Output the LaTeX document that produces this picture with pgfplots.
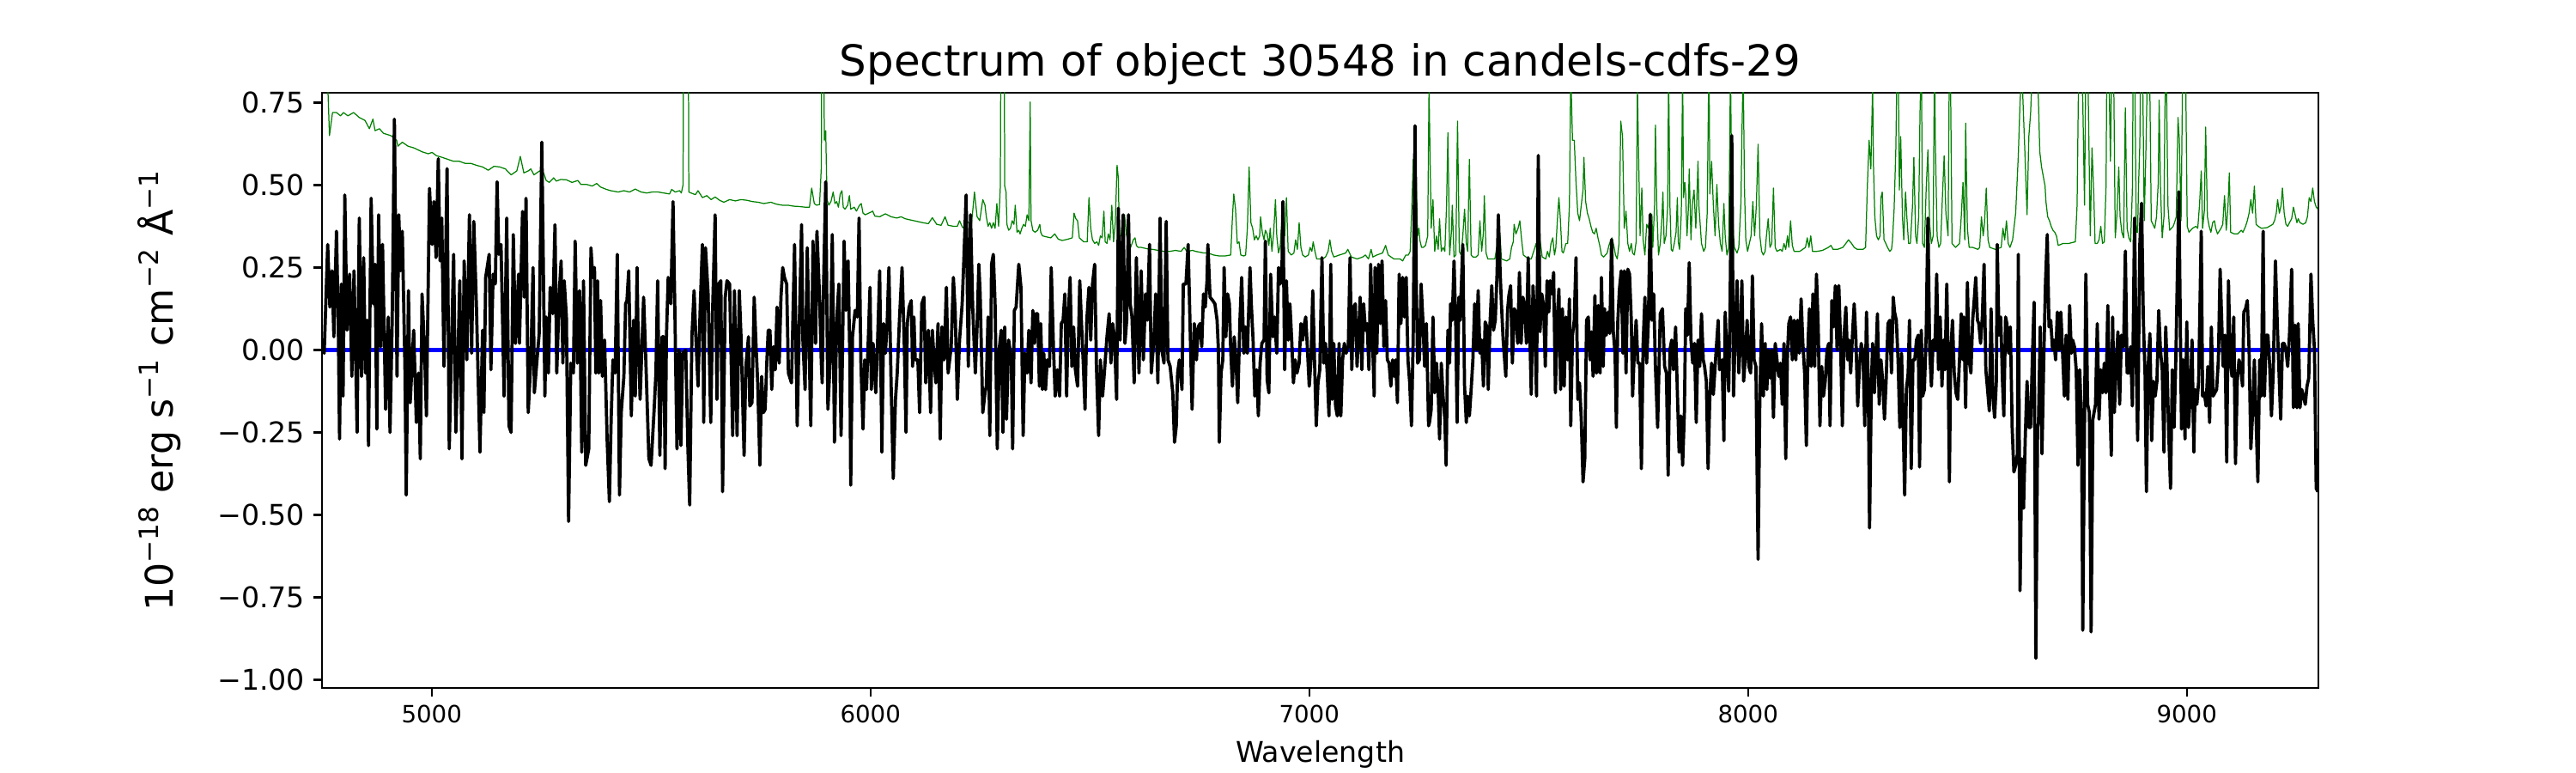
\documentclass[border=0pt]{standalone}
\usepackage{fontspec}
\setmainfont{DejaVu Sans}
\usepackage{pgfplots}
\pgfplotsset{compat=1.18}
\definecolor{mplgreen}{RGB}{0,128,0}
\definecolor{mplblue}{RGB}{0,0,255}
\begin{document}
\begin{tikzpicture}
\path[use as bounding box] (0,0) rectangle (15in,4.5in);
\begin{axis}[
  at={(1.875in,0.495in)}, anchor=south west,
  scale only axis, width=11.625in, height=3.465in,
  xmin=4750, xmax=9300, ymin=-1.025, ymax=0.78,
  axis line style={line width=0.8pt},
  tick style={line width=0.8pt, black},
  tick align=outside, major tick length=3.5pt,
  tick pos=left,
  xtick={5000,6000,7000,8000,9000},
  xticklabels={5000,6000,7000,8000,9000},
  ytick={-1,-0.75,-0.5,-0.25,0,0.25,0.5,0.75},
  yticklabels={−1.00,−0.75,−0.50,−0.25,0.00,0.25,0.50,0.75},
  xticklabel style={font=\fontsize{10}{12}\selectfont, inner sep=0pt, yshift=-3.5pt},
  yticklabel style={font=\fontsize{12}{14}\selectfont, inner sep=0pt, xshift=-3.5pt},
]
% green (sky / noise)
\addplot[mplgreen, line width=0.45pt, line join=round, mark=none] coordinates {
(4750,0.90)(4762,0.85)(4767,0.65)(4774,0.72)(4783,0.72)(4792,0.71)(4799,0.72)(4809,0.71)(4822,0.72)(4835,0.705)(4848,0.696)(4858,0.671)(4866,0.70)(4871,0.665)(4881,0.671)(4890,0.657)(4907,0.65)(4920,0.636)(4923,0.618)(4933,0.63)(4946,0.618)(4959,0.613)(4978,0.601)(4992,0.595)(5001,0.599)(5011,0.589)(5024,0.584)(5037,0.578)(5050,0.572)(5063,0.572)(5076,0.566)(5089,0.566)(5102,0.56)(5116,0.555)(5129,0.545)(5142,0.557)(5155,0.555)(5168,0.549)(5181,0.531)(5194,0.543)(5202,0.587)(5210,0.537)(5220,0.543)(5226,0.549)(5233,0.531)(5246,0.543)
(5255,0.537)(5261,0.514)(5268,0.508)(5278,0.522)(5284,0.512)(5294,0.517)(5307,0.516)(5320,0.508)(5333,0.514)(5340,0.502)(5353,0.502)(5366,0.497)(5376,0.505)(5385,0.494)(5398,0.487)(5408,0.483)(5425,0.479)(5438,0.483)(5451,0.479)(5464,0.488)(5477,0.479)(5490,0.476)(5503,0.479)(5516,0.479)(5529,0.476)(5542,0.473)(5547,0.487)(5555,0.479)(5565,0.483)(5569,0.476)(5573,0.502)(5575,1.8)(5583,1.8)(5586,0.479)(5591,0.476)(5601,0.471)(5607,0.483)(5617,0.462)(5627,0.468)(5637,0.456)(5646,0.464)(5656,0.454)(5666,0.448)(5679,0.456)(5692,0.452)(5705,0.456)(5718,0.454)(5731,0.45)(5744,0.448)(5757,0.444)
(5773,0.448)(5786,0.442)(5799,0.439)(5812,0.439)(5825,0.436)(5838,0.435)(5851,0.433)(5861,0.433)(5866,0.491)(5872,0.444)(5877,0.439)(5884,0.441)(5888,0.555)(5890,1.2)(5893,0.95)(5895,0.636)(5898,0.665)(5901,0.456)(5905,0.439)(5910,0.45)(5915,0.479)(5919,0.444)(5923,0.45)(5927,0.433)(5931,0.473)(5935,0.483)(5938,0.433)(5942,0.427)(5948,0.439)(5952,0.468)(5955,0.427)(5963,0.433)(5968,0.421)(5975,0.439)(5979,0.444)(5983,0.415)(5988,0.41)(6001,0.418)(6005,0.421)(6010,0.406)(6021,0.404)(6034,0.413)(6047,0.404)(6060,0.40)(6070,0.404)(6079,0.398)(6092,0.394)(6106,0.39)(6119,0.386)(6132,0.383)(6141,0.401)(6151,0.381)(6161,0.378)(6170,0.404)(6177,0.378)(6190,0.375)(6198,0.375)(6203,0.392)(6210,0.371)(6217,0.375)(6220,0.392)(6226,0.381)(6230,0.381)(6233,0.421)(6237,0.479)(6243,0.404)(6249,0.392)(6256,0.456)(6261,0.439)
(6264,0.404)(6268,0.375)(6272,0.386)(6276,0.369)(6280,0.386)(6284,0.369)(6288,0.444)(6292,0.375)(6296,0.497)(6298,1.2)(6304,1.2)(6306,0.497)(6309,0.479)(6311,0.381)(6315,0.363)(6319,0.369)(6323,0.392)(6327,0.381)(6330,0.439)(6334,0.357)(6338,0.363)(6341,0.352)(6345,0.369)(6349,0.381)(6353,0.375)(6357,0.41)(6361,0.392)(6364,0.752)(6366,0.392)(6370,0.363)(6375,0.357)(6381,0.363)(6386,0.381)(6388,0.357)(6392,0.346)(6401,0.343)(6411,0.34)(6420,0.352)(6428,0.336)(6437,0.332)(6450,0.336)(6460,0.34)(6464,0.415)(6468,0.398)(6472,0.392)(6476,0.34)(6486,0.328)(6494,0.328)(6498,0.462)(6502,0.369)(6506,0.334)(6511,0.323)(6516,0.328)(6520,0.317)(6524,0.346)(6528,0.34)(6532,0.421)(6535,0.328)(6539,0.323)(6542,0.352)(6546,0.334)(6550,0.439)(6554,0.328)(6558,0.386)(6562,0.56)(6565,0.52)(6567,0.346)(6571,0.346)(6575,0.404)(6579,0.41)(6583,0.352)(6588,0.323)(6593,0.311)(6599,0.334)(6603,0.34)(6606,0.317)(6610,0.311)(6617,0.311)(6630,0.307)(6643,0.305)(6656,0.302)(6669,0.299)(6682,0.299)(6695,0.302)(6708,0.299)(6715,0.311)(6721,0.299)(6734,0.302)(6741,0.299)(6760,0.294)
(6769,0.294)(6782,0.288)(6795,0.285)(6808,0.285)(6821,0.288)(6825,0.404)(6828,0.473)(6832,0.427)(6836,0.323)(6840,0.328)(6844,0.288)(6851,0.285)(6855,0.288)(6859,0.369)(6863,0.555)(6867,0.386)(6871,0.369)(6875,0.334)(6879,0.346)(6883,0.334)(6887,0.346)(6889,0.404)(6893,0.357)(6897,0.334)(6900,0.363)(6904,0.352)(6908,0.317)(6911,0.369)(6915,0.299)(6919,0.357)(6923,0.456)(6926,0.346)(6930,0.294)(6934,0.317)(6938,0.404)(6940,0.439)(6944,0.346)(6948,0.462)(6952,0.299)(6959,0.288)(6965,0.294)(6969,0.334)(6973,0.305)(6977,0.386)(6981,0.311)(6985,0.288)(6991,0.282)(6998,0.288)(7002,0.311)(7006,0.299)(7009,0.328)(7013,0.299)(7017,0.276)(7030,0.276)(7037,0.282)(7043,0.299)(7047,0.334)(7051,0.299)(7056,0.282)(7069,0.288)(7083,0.294)(7088,0.305)(7096,0.282)(7109,0.276)(7122,0.282)(7128,0.288)(7135,0.276)(7141,0.305)(7145,0.282)(7154,0.288)(7167,0.294)(7174,0.317)(7180,0.288)(7193,0.276)(7207,0.276)(7213,0.27)(7220,0.288)(7226,0.288)(7230,0.299)(7234,0.439)(7237,0.578)(7239,0.427)(7243,0.555)(7247,0.346)(7250,0.369)(7252,0.334)(7256,0.311)(7260,0.311)(7265,0.317)(7270,0.346)(7273,0.80)(7275,0.62)
(7278,0.369)(7282,0.456)(7286,0.299)(7290,0.346)(7294,0.305)(7297,0.398)(7301,0.299)(7305,0.311)(7309,0.299)(7313,0.439)(7316,0.659)(7320,0.288)(7324,0.357)(7326,0.439)(7330,0.282)(7334,0.288)(7338,0.694)(7342,0.299)(7346,0.288)(7350,0.346)(7354,0.427)(7358,0.323)(7361,0.299)(7365,0.578)(7369,0.288)(7373,0.282)(7380,0.282)(7385,0.288)(7389,0.392)(7393,0.299)(7397,0.357)(7399,0.468)(7403,0.294)(7407,0.276)(7415,0.276)(7423,0.276)(7431,0.34)(7435,0.346)(7438,0.276)(7450,0.27)(7457,0.276)(7461,0.311)(7465,0.328)(7467,0.381)(7471,0.352)(7476,0.369)(7480,0.392)(7484,0.334)(7488,0.288)(7500,0.276)(7506,0.276)(7513,0.305)(7517,0.323)(7519,0.305)(7523,0.357)(7527,0.323)(7531,0.282)(7539,0.276)(7543,0.299)(7547,0.282)(7551,0.323)(7555,0.34)(7559,0.288)(7562,0.311)(7566,0.404)(7569,0.462)(7572,0.404)(7576,0.299)(7579,0.294)(7585,0.323)(7589,0.323)(7593,0.439)(7596,0.85)(7600,0.636)(7604,0.636)(7608,0.508)(7612,0.415)(7616,0.392)(7620,0.439)(7624,0.485)(7626,0.584)(7630,0.45)(7634,0.415)(7638,0.398)(7642,0.375)(7646,0.357)(7650,0.352)(7654,0.369)(7658,0.34)(7662,0.317)(7666,0.288)(7671,0.282)(7679,0.294)(7683,0.317)(7686,0.328)(7690,0.34)(7694,0.317)(7698,0.288)(7702,0.276)(7706,0.323)(7710,0.694)(7714,0.647)(7718,0.369)(7722,0.421)(7726,0.323)(7730,0.299)(7734,0.323)(7737,0.294)(7741,0.288)(7745,0.328)(7748,0.80)(7750,0.636)(7754,0.346)(7758,0.491)(7761,0.334)(7765,0.288)(7769,0.381)(7773,0.369)(7777,0.415)(7781,0.41)
(7783,0.311)(7787,0.439)(7789,0.682)(7792,0.439)(7796,0.288)(7800,0.323)(7804,0.404)(7806,0.479)(7809,0.323)(7813,0.346)(7817,0.439)(7819,0.85)(7822,0.439)(7825,0.305)(7828,0.299)(7832,0.323)(7836,0.357)(7839,0.462)(7841,0.328)(7844,0.305)(7848,0.415)(7851,0.85)(7853,0.462)(7856,0.508)(7858,0.473)(7861,0.346)(7864,0.427)(7866,0.549)(7870,0.334)(7873,0.439)(7877,0.485)(7881,0.369)(7883,0.439)(7886,0.572)(7888,0.439)(7894,0.323)(7899,0.299)(7903,0.311)(7907,0.415)(7911,0.9)(7913,0.473)(7917,0.572)(7921,0.439)(7925,0.346)(7929,0.502)(7933,0.381)(7937,0.323)(7941,0.299)(7945,0.444)(7948,0.346)(7952,0.288)(7956,0.311)(7960,0.85)(7963,0.497)(7967,0.346)(7969,0.311)(7975,0.294)(7979,0.311)(7984,0.45)(7986,0.647)(7989,0.85)(7992,0.485)(7995,0.334)(7999,0.299)(8003,0.323)(8007,0.346)(8011,0.45)(8015,0.346)(8019,0.439)(8023,0.624)(8027,0.346)(8031,0.299)(8035,0.288)(8039,0.299)(8042,0.346)(8046,0.398)(8050,0.311)(8054,0.323)(8058,0.491)(8062,0.311)(8066,0.299)(8074,0.305)(8078,0.299)(8082,0.323)(8086,0.305)(8090,0.346)(8093,0.311)(8097,0.392)(8101,0.317)(8105,0.299)(8118,0.299)(8131,0.311)(8135,0.34)(8139,0.311)(8143,0.346)(8147,0.299)(8157,0.299)(8170,0.302)(8183,0.311)(8189,0.317)(8194,0.305)(8204,0.305)(8216,0.311)(8223,0.323)(8229,0.334)(8236,0.323)(8242,0.311)(8249,0.305)(8262,0.305)(8268,0.311)(8272,0.497)(8276,0.636)(8280,0.549)(8284,0.80)
(8286,0.555)(8289,0.404)(8293,0.346)(8297,0.334)(8301,0.346)(8303,0.462)(8306,0.479)(8310,0.334)(8314,0.323)(8318,0.311)(8323,0.299)(8327,0.305)(8329,0.328)(8333,0.427)(8337,0.613)(8340,0.9)(8342,0.9)(8345,0.485)(8348,0.647)(8352,0.404)(8355,0.334)(8359,0.479)(8362,0.404)(8366,0.323)(8370,0.323)(8375,0.439)(8378,0.584)(8382,0.346)(8385,0.323)(8389,0.404)(8392,0.717)(8395,0.9)(8398,0.323)(8402,0.311)(8406,0.485)(8410,0.607)(8414,0.381)(8418,0.323)(8422,0.346)(8425,0.9)(8427,0.624)(8431,0.346)(8435,0.311)(8439,0.323)(8443,0.462)(8447,0.589)(8451,0.415)(8456,0.346)(8459,0.9)(8461,0.9)(8465,0.323)(8473,0.311)(8482,0.323)(8486,0.404)(8490,0.508)(8494,0.334)(8496,0.688)(8500,0.369)(8504,0.311)(8512,0.311)(8524,0.305)(8528,0.311)(8532,0.404)(8536,0.346)(8539,0.386)(8543,0.491)(8547,0.334)(8551,0.311)(8564,0.305)(8577,0.311)(8581,0.369)(8585,0.334)(8589,0.392)(8593,0.323)(8597,0.311)(8603,0.334)(8610,0.415)(8616,0.589)(8620,0.752)(8624,0.85)(8631,0.601)(8636,0.41)(8640,0.647)(8644,0.717)(8648,0.85)(8653,0.9)(8660,0.85)(8665,0.601)(8669,0.555)(8673,0.526)(8677,0.497)(8679,0.45)(8683,0.404)(8687,0.392)(8691,0.375)(8695,0.363)(8699,0.357)(8703,0.346)(8707,0.317)(8718,0.323)(8731,0.323)(8746,0.328)(8750,0.439)(8754,0.9)(8759,0.9)(8763,0.752)(8767,0.439)(8770,0.9)(8774,0.9)(8780,0.346)(8784,0.613)(8788,0.473)(8791,0.323)
(8796,0.323)(8800,0.334)(8804,0.375)(8808,0.323)(8812,0.328)(8816,0.497)(8818,0.9)(8822,0.9)(8826,0.572)(8829,0.9)(8833,0.9)(8837,0.34)(8841,0.415)(8845,0.555)(8848,0.404)(8852,0.357)(8856,0.34)(8860,0.734)(8864,0.369)(8868,0.34)(8872,0.328)(8876,0.485)(8878,0.9)(8881,0.9)(8885,0.357)(8888,0.357)(8890,0.497)(8893,0.624)(8895,0.9)(8899,0.9)(8903,0.392)(8907,0.613)(8911,0.9)(8915,0.9)(8919,0.392)(8927,0.369)(8931,0.404)(8935,0.508)(8937,0.758)(8940,0.497)(8944,0.34)(8948,0.404)(8950,0.717)(8953,0.9)(8957,0.439)(8961,0.363)(8969,0.375)(8972,0.386)(8976,0.404)(8980,0.705)(8983,0.636)(8987,0.392)(8991,0.9)(8997,0.9)(9001,0.375)(9005,0.357)(9013,0.369)(9021,0.375)(9025,0.369)(9029,0.439)(9033,0.543)(9036,0.369)(9040,0.421)(9043,0.676)(9047,0.404)(9051,0.375)(9055,0.357)(9059,0.386)(9063,0.392)(9066,0.369)(9070,0.352)(9078,0.369)(9082,0.381)(9086,0.468)(9090,0.363)(9094,0.439)(9097,0.537)(9100,0.357)(9108,0.352)(9116,0.352)(9124,0.363)(9128,0.357)(9134,0.375)(9138,0.392)(9142,0.415)(9146,0.456)(9150,0.415)(9154,0.497)(9158,0.381)(9163,0.375)(9170,0.369)(9183,0.371)(9196,0.381)(9200,0.392)(9204,0.415)(9207,0.456)(9211,0.415)(9215,0.439)(9218,0.491)(9222,0.415)(9226,0.381)(9230,0.375)(9234,0.386)(9239,0.398)(9243,0.433)(9247,0.41)(9251,0.386)(9254,0.398)(9258,0.386)(9265,0.381)(9271,0.386)(9275,0.404)(9279,0.462)(9283,0.45)(9287,0.491)(9291,0.45)(9295,0.433)(9299,0.427)
};
% blue zero line
\addplot[mplblue, line width=1.5pt, mark=none] coordinates {(4750,0)(9300,0)};
% black spectrum
\addplot[black, line width=1.35pt, line join=round, mark=none] coordinates {
(4750,0.03)(4755,-0.01)(4763,0.32)(4768,0.13)(4773,0.24)(4777,0.04)(4783,0.36)(4787,0.09)(4790,-0.27)(4794,0.20)(4798,-0.14)(4802,0.47)(4807,0.06)(4813,0.23)(4818,-0.08)(4823,0.24)(4830,-0.25)(4835,0.40)(4840,-0.08)(4845,0.28)(4849,-0.07)(4853,0.09)(4856,-0.29)(4862,0.46)(4867,0.14)(4871,0.26)(4875,-0.24)(4879,0.41)(4884,0.01)(4888,0.32)(4895,-0.18)(4901,0.10)(4905,-0.25)(4910,0.09)(4915,0.70)(4921,-0.08)(4925,0.41)(4929,0.24)(4933,0.36)(4939,-0.05)(4942,-0.44)(4947,0.18)(4951,-0.16)(4959,0.06)(4965,-0.22)(4970,-0.07)(4974,-0.33)(4978,0.17)(4984,-0.01)(4988,-0.20)(4995,0.49)(5001,0.32)(5005,0.45)(5010,0.28)(5015,0.58)(5019,0.27)(5023,0.40)(5028,-0.05)(5035,0.55)(5040,-0.30)(5046,0.06)(5050,0.29)(5055,-0.25)(5060,-0.01)(5064,0.21)(5069,-0.33)(5074,0.27)(5080,-0.03)(5086,0.41)(5091,-0.01)(5096,0.39)(5102,0.13)(5110,-0.31)(5116,0.06)(5119,-0.19)(5123,0.22)(5131,0.29)(5135,-0.06)(5140,0.23)(5145,0.20)(5149,0.51)(5153,0.29)(5158,0.32)(5165,-0.14)(5171,0.40)(5176,-0.23)(5181,-0.25)(5186,0.35)(5191,0.02)(5198,0.23)(5200,0.02)(5207,0.42)(5211,0.16)(5215,0.46)(5220,-0.19)(5226,-0.03)(5231,0.25)(5234,-0.13)(5240,-0.03)(5245,0.05)(5251,0.63)
(5258,-0.14)(5261,0.10)(5266,-0.07)(5270,0.19)(5276,0.11)(5281,0.38)(5285,-0.07)(5291,0.18)(5295,0.27)(5299,-0.04)(5302,0.21)(5307,0.10)(5312,-0.52)(5317,-0.04)(5323,-0.07)(5327,0.33)(5332,-0.04)(5337,0.18)(5342,-0.31)(5346,0.21)(5351,-0.35)(5358,-0.30)(5363,0.31)(5367,0.22)(5371,0.25)(5374,-0.07)(5378,0.21)(5381,-0.07)(5385,0.15)(5389,-0.08)(5394,0.03)(5400,-0.28)(5405,-0.46)(5409,-0.21)(5413,-0.03)(5418,-0.07)(5423,0.29)(5428,-0.44)(5432,-0.19)(5438,-0.08)(5442,0.14)(5445,0.15)(5449,0.24)(5455,-0.20)(5460,0.09)(5464,-0.14)(5468,0.25)(5470,0.08)(5475,-0.15)(5483,0.16)(5488,-0.03)(5495,-0.33)(5500,-0.35)(5507,-0.18)(5511,-0.07)(5515,0.21)(5520,-0.32)(5525,0.04)(5529,0.04)(5532,-0.36)(5535,0.04)(5539,0.22)(5545,0.14)(5550,0.45)(5554,0.14)(5559,-0.30)(5564,0.00)(5568,-0.29)(5572,-0.01)(5579,0.00)(5584,-0.30)(5588,-0.47)(5593,0.04)(5598,0.18)(5602,0.04)(5607,-0.11)(5612,0.13)(5617,0.32)(5620,-0.22)(5624,0.31)(5630,0.17)(5636,-0.22)(5640,0.11)(5646,0.41)(5650,-0.15)(5654,0.20)(5659,0.21)(5663,-0.43)(5669,0.16)(5673,0.21)(5679,0.20)(5686,-0.26)(5690,0.18)(5696,-0.26)(5701,0.18)(5705,0.04)(5712,-0.32)(5716,-0.05)(5722,0.04)(5725,-0.17)(5730,-0.16)(5735,0.16)(5739,0.02)(5743,-0.10)(5748,-0.35)(5752,-0.08)(5756,-0.19)
(5760,-0.18)(5764,-0.03)(5767,0.06)(5771,0.06)(5775,-0.12)(5779,0.01)(5783,-0.06)(5787,0.13)(5792,-0.04)(5796,0.16)(5800,0.25)(5804,0.22)(5809,0.20)(5813,-0.07)(5820,-0.10)(5827,0.32)(5833,-0.23)(5838,0.09)(5843,0.38)(5846,0.03)(5851,-0.12)(5856,0.31)(5861,-0.04)(5864,-0.23)(5869,0.33)(5875,0.02)(5878,0.36)(5884,0.16)(5888,-0.04)(5890,-0.10)(5893,0.19)(5898,0.51)(5903,-0.18)(5908,-0.04)(5913,0.35)(5918,-0.28)(5923,0.09)(5928,0.20)(5933,-0.26)(5936,-0.03)(5940,0.33)(5944,0.12)(5949,0.27)(5953,-0.03)(5955,-0.41)(5959,0.04)(5965,0.12)(5970,0.10)(5974,0.40)(5978,-0.03)(5983,-0.24)(5987,-0.03)(5991,-0.12)(5995,0.03)(5999,0.19)(6002,-0.12)(6006,0.02)(6012,-0.13)(6015,-0.03)(6021,0.24)(6026,-0.31)(6030,0.08)(6034,-0.01)(6038,0.08)(6042,0.25)(6047,-0.10)(6052,-0.39)(6057,-0.15)(6061,-0.07)(6066,0.09)(6072,0.25)(6077,0.02)(6081,-0.25)(6084,0.08)(6088,0.13)(6093,0.15)(6096,-0.05)(6099,0.10)(6102,-0.03)(6108,-0.03)(6112,-0.19)(6117,0.14)(6122,0.16)(6126,-0.10)(6132,0.06)(6137,-0.19)(6141,0.06)(6145,-0.03)(6149,-0.10)(6154,0.08)(6159,-0.27)(6163,0.07)(6168,-0.03)(6173,0.19)(6177,-0.07)(6184,0.01)(6189,0.22)(6193,0.12)(6198,-0.15)(6203,0.03)(6209,0.14)(6213,0.28)(6218,0.47)(6223,-0.05)(6228,0.41)(6233,0.13)(6239,-0.07)(6243,0.07)(6247,0.26)(6250,0.17)(6256,-0.19)(6261,-0.13)
(6264,-0.11)(6268,0.10)(6272,-0.26)(6276,0.26)(6280,0.29)(6284,0.14)(6289,-0.30)(6294,0.01)(6298,0.06)(6302,-0.25)(6306,0.07)(6310,-0.21)(6315,0.03)(6321,-0.03)(6324,-0.30)(6328,0.12)(6332,0.13)(6338,0.26)(6343,0.19)(6348,-0.26)(6352,-0.01)(6357,-0.07)(6361,0.06)(6366,-0.10)(6370,0.12)(6374,0.02)(6377,0.11)(6381,0.11)(6385,-0.11)(6388,0.08)(6392,-0.12)(6395,-0.01)(6399,-0.12)(6403,-0.03)(6408,-0.05)(6412,0.25)(6417,0.01)(6421,-0.14)(6426,-0.06)(6431,-0.14)(6435,0.08)(6439,0.09)(6443,0.17)(6447,-0.14)(6451,0.11)(6455,0.22)(6459,-0.05)(6463,0.07)(6467,-0.06)(6472,-0.11)(6477,0.21)(6481,0.08)(6485,-0.04)(6489,-0.18)(6493,0.09)(6498,0.19)(6502,0.03)(6506,0.20)(6511,0.26)(6515,-0.05)(6520,-0.26)(6524,-0.03)(6529,-0.14)(6533,-0.07)(6539,0.04)(6544,0.11)(6548,-0.04)(6552,0.08)(6556,0.04)(6561,-0.15)(6565,0.43)(6569,0.03)(6572,0.24)(6576,0.41)(6580,0.02)(6584,0.09)(6588,0.41)(6592,0.14)(6596,0.10)(6601,-0.10)(6606,0.28)(6612,-0.07)(6617,0.24)(6622,-0.03)(6627,0.17)(6631,0.09)(6636,0.32)(6640,-0.07)(6646,0.03)(6650,0.17)(6655,-0.10)(6660,0.40)(6664,0.00)(6669,-0.04)(6674,0.39)(6678,-0.03)(6683,-0.05)(6689,-0.13)(6693,-0.28)(6697,-0.23)(6700,-0.07)(6704,-0.03)(6710,-0.12)(6713,0.20)(6719,0.20)(6724,0.32)(6729,0.04)(6733,-0.18)(6738,0.08)(6743,-0.03)(6747,0.07)(6751,0.08)(6755,0.01)(6759,0.17)(6763,0.13)(6767,0.21)
(6769,0.32)(6774,0.16)(6780,0.15)(6785,0.14)(6790,0.09)(6793,0.00)(6795,-0.28)(6799,-0.07)(6803,-0.03)(6806,0.25)(6810,0.04)(6814,0.17)(6818,0.14)(6821,0.00)(6825,-0.11)(6829,0.04)(6833,-0.03)(6837,-0.16)(6842,0.09)(6846,0.22)(6851,-0.01)(6855,0.07)(6859,-0.01)(6865,0.25)(6868,0.14)(6872,0.03)(6876,-0.14)(6880,-0.06)(6884,-0.20)(6888,-0.04)(6892,0.02)(6897,0.03)(6900,0.33)(6904,-0.09)(6908,-0.13)(6912,0.23)(6917,0.04)(6921,0.10)(6926,-0.01)(6930,0.25)(6934,0.20)(6938,0.26)(6940,0.45)(6944,-0.06)(6948,0.21)(6952,0.03)(6956,0.14)(6960,0.03)(6964,-0.10)(6968,-0.03)(6972,-0.07)(6977,-0.04)(6981,0.08)(6985,0.03)(6989,0.08)(6992,0.10)(6996,0.00)(7000,-0.11)(7004,-0.03)(7008,0.18)(7012,-0.03)(7016,-0.23)(7020,-0.10)(7024,-0.06)(7029,0.28)(7033,-0.04)(7037,0.02)(7041,-0.07)(7045,-0.20)(7049,0.26)(7052,-0.15)(7056,0.02)(7060,-0.17)(7064,-0.20)(7068,0.02)(7072,-0.20)(7076,-0.03)(7080,0.02)(7084,-0.01)(7089,0.01)(7093,0.28)(7097,-0.06)(7101,0.13)(7105,0.14)(7109,-0.05)(7113,0.06)(7116,0.16)(7120,-0.06)(7124,0.14)(7128,0.06)(7132,0.08)(7136,-0.06)(7140,0.26)(7144,0.05)(7148,-0.14)(7150,0.25)(7154,-0.01)(7158,0.26)(7162,0.08)(7166,0.27)(7170,0.01)(7174,0.15)(7178,-0.03)(7182,-0.04)(7186,-0.11)(7190,-0.03)(7194,-0.08)(7197,-0.03)(7201,-0.16)(7205,0.23)(7209,0.08)(7213,0.22)(7217,0.10)(7221,0.22)(7225,-0.03)(7229,-0.10)(7233,-0.23)(7237,0.04)(7241,0.68)(7244,0.20)(7247,-0.04)(7251,-0.03)(7255,0.20)(7259,0.09)(7263,-0.05)(7267,0.08)(7272,-0.23)
(7274,-0.22)(7278,-0.18)(7282,0.10)(7286,-0.13)(7290,-0.04)(7294,-0.13)(7297,-0.27)(7301,-0.04)(7305,-0.14)(7309,-0.21)(7312,-0.35)(7316,0.06)(7320,-0.04)(7322,0.14)(7326,0.09)(7330,0.27)(7334,0.07)(7337,-0.22)(7341,0.16)(7344,0.09)(7350,0.32)(7354,-0.11)(7358,-0.22)(7361,-0.14)(7365,-0.20)(7369,-0.12)(7373,-0.03)(7377,0.14)(7381,0.00)(7385,0.18)(7389,-0.01)(7393,0.03)(7397,-0.11)(7401,0.085)(7405,0.07)(7408,-0.12)(7412,0.08)(7416,0.195)(7420,0.06)(7424,0.09)(7428,0.23)(7431,0.41)(7435,0.24)(7438,0.14)(7442,0.03)(7448,-0.08)(7452,0.12)(7455,0.165)(7459,0.195)(7463,-0.04)(7467,0.125)(7471,0.115)(7475,0.02)(7479,0.235)(7483,0.02)(7487,0.16)(7491,0.135)(7495,0.02)(7499,0.28)(7502,0.09)(7506,-0.135)(7510,0.195)(7514,0.09)(7518,-0.14)(7522,0.59)(7526,0.055)(7530,0.17)(7534,0.135)(7538,-0.05)(7542,0.21)(7546,0.115)(7549,0.21)(7553,0.17)(7557,0.235)(7561,-0.13)(7565,0.09)(7569,0.185)(7573,-0.12)(7577,0.125)(7581,-0.11)(7585,0.10)(7589,-0.03)(7593,0.155)(7596,-0.23)(7600,0.045)(7604,0.09)(7608,0.28)(7612,-0.15)(7616,-0.10)(7620,-0.21)(7624,-0.40)(7628,-0.33)(7632,0.09)(7636,0.10)(7640,-0.03)(7643,0.055)(7647,-0.08)(7651,0.165)(7655,-0.07)(7659,0.135)(7663,-0.07)(7666,0.22)(7670,-0.05)(7673,0.125)(7677,0.045)(7681,0.115)(7685,0.05)(7689,0.335)(7693,0.055)(7697,-0.01)(7700,-0.235)(7703,0.08)(7707,0.185)(7711,0.24)(7715,-0.01)(7718,0.24)(7722,-0.07)(7726,0.245)(7730,0.23)(7734,0.09)(7737,-0.14)(7741,0.00)(7745,0.09)(7749,-0.04)(7753,-0.04)(7757,-0.36)(7761,0.02)(7765,0.16)(7769,-0.04)(7773,0.09)(7777,0.41)
(7781,0.09)(7785,0.17)(7789,-0.05)(7794,-0.235)(7800,0.11)(7805,0.125)(7810,-0.05)(7814,-0.07)(7818,-0.38)(7822,0.00)(7826,0.03)(7830,-0.06)(7835,0.07)(7839,-0.13)(7843,-0.31)(7847,-0.20)(7851,-0.35)(7855,-0.19)(7858,0.125)(7862,0.045)(7866,0.265)(7870,0.03)(7874,-0.04)(7878,0.02)(7882,-0.22)(7886,0.03)(7890,-0.05)(7894,0.11)(7898,-0.03)(7901,-0.05)(7905,-0.095)(7909,-0.36)(7913,-0.14)(7917,-0.04)(7921,-0.135)(7926,-0.03)(7932,0.09)(7935,-0.06)(7941,-0.03)(7945,-0.275)(7948,0.115)(7952,-0.03)(7956,-0.125)(7959,0.12)(7963,0.65)(7967,-0.14)(7971,0.055)(7975,0.21)(7979,-0.07)(7982,0.01)(7986,0.21)(7990,-0.095)(7994,-0.02)(7998,0.09)(8002,-0.05)(8006,-0.07)(8010,0.225)(8014,-0.03)(8018,-0.05)(8023,-0.635)(8027,-0.14)(8031,0.08)(8035,-0.14)(8039,0.02)(8043,-0.12)(8046,0.00)(8050,-0.085)(8054,0.00)(8058,-0.205)(8062,0.02)(8066,-0.03)(8070,-0.08)(8074,-0.04)(8078,-0.165)(8082,0.02)(8086,-0.33)(8090,-0.01)(8093,0.08)(8097,0.10)(8101,-0.03)(8105,0.09)(8109,-0.03)(8113,0.09)(8117,-0.01)(8121,0.155)(8125,0.02)(8129,-0.07)(8133,-0.29)(8137,0.03)(8140,0.125)(8144,-0.05)(8148,0.17)(8152,-0.05)(8156,0.23)(8160,0.07)(8164,-0.23)(8168,-0.05)(8172,-0.14)(8176,-0.095)(8180,0.00)(8184,0.02)(8187,-0.23)(8191,0.15)(8195,0.07)(8199,0.195)(8203,0.00)(8207,0.195)(8211,0.02)(8215,-0.23)(8219,0.045)(8223,0.13)(8227,-0.03)(8230,0.03)(8234,-0.07)(8238,0.045)(8242,0.14)(8246,0.03)(8250,-0.17)(8254,-0.05)(8258,0.02)(8262,-0.01)(8266,-0.23)(8270,0.115)(8274,-0.095)(8277,-0.54)(8281,-0.12)
(8284,0.02)(8288,-0.13)(8291,-0.04)(8295,0.11)(8299,-0.165)(8303,-0.03)(8307,-0.095)(8311,-0.21)(8315,-0.085)(8319,0.08)(8323,0.09)(8327,-0.07)(8331,0.16)(8334,0.115)(8338,0.09)(8342,-0.03)(8346,-0.235)(8350,-0.01)(8354,-0.245)(8357,-0.44)(8361,-0.12)(8365,-0.07)(8368,0.09)(8372,-0.36)(8376,-0.03)(8380,-0.03)(8384,0.03)(8388,0.045)(8391,-0.355)(8395,0.06)(8398,-0.14)(8402,-0.12)(8406,0.045)(8410,0.40)(8414,0.00)(8418,-0.11)(8422,0.03)(8426,0.00)(8430,0.23)(8434,-0.06)(8438,0.10)(8442,-0.11)(8446,0.03)(8449,-0.06)(8453,0.20)(8456,-0.03)(8459,-0.40)(8462,-0.01)(8466,0.09)(8470,-0.07)(8474,-0.13)(8478,-0.15)(8482,-0.03)(8486,0.11)(8490,-0.03)(8492,0.10)(8496,-0.175)(8500,0.205)(8504,-0.03)(8508,-0.07)(8512,0.09)(8516,0.16)(8519,0.22)(8523,0.09)(8526,0.08)(8530,0.02)(8534,0.10)(8538,0.26)(8542,-0.06)(8546,-0.12)(8550,-0.185)(8554,0.125)(8558,-0.14)(8562,-0.205)(8566,-0.095)(8568,0.32)(8572,0.045)(8576,0.10)(8580,-0.095)(8583,-0.20)(8587,0.10)(8590,0.08)(8594,-0.01)(8598,0.07)(8602,-0.235)(8606,-0.37)(8610,-0.35)(8614,-0.315)(8616,0.29)(8620,-0.73)(8624,-0.33)(8628,-0.48)(8632,-0.26)(8636,-0.095)(8640,-0.235)(8644,-0.235)(8648,-0.03)(8652,0.145)(8656,-0.935)(8660,-0.235)(8662,-0.22)(8666,0.07)(8670,-0.315)(8674,-0.03)(8678,0.205)(8682,0.35)(8686,0.07)(8690,0.09)(8694,0.00)(8697,0.03)(8701,-0.03)(8705,0.115)(8709,0.00)(8713,0.115)(8717,-0.01)(8721,-0.14)(8725,0.045)(8729,-0.15)(8733,0.135)(8737,-0.01)(8740,0.03)(8744,0.01)(8748,-0.06)(8752,-0.35)(8756,-0.06)(8760,-0.21)(8763,-0.85)(8767,-0.21)(8770,0.23)(8774,-0.165)(8778,-0.19)(8782,-0.855)(8786,-0.21)
(8792,-0.165)(8796,0.08)(8800,-0.21)(8804,-0.06)(8808,-0.13)(8812,-0.04)(8816,-0.13)(8820,0.135)(8824,-0.12)(8828,-0.32)(8831,0.10)(8835,-0.19)(8839,-0.05)(8843,0.055)(8847,-0.165)(8851,0.045)(8856,0.01)(8860,0.30)(8864,-0.07)(8868,-0.07)(8872,0.01)(8876,-0.17)(8881,0.40)(8885,-0.05)(8888,-0.275)(8893,0.32)(8897,0.445)(8901,0.09)(8905,-0.08)(8908,-0.43)(8912,-0.05)(8916,0.05)(8920,-0.275)(8924,-0.095)(8928,-0.14)(8932,-0.095)(8936,0.12)(8940,0.00)(8944,-0.06)(8948,-0.31)(8952,0.07)(8955,-0.05)(8959,-0.26)(8963,-0.42)(8967,-0.06)(8971,-0.235)(8975,-0.03)(8982,0.48)(8986,-0.01)(8988,-0.24)(8992,-0.03)(8996,-0.27)(9000,0.085)(9004,-0.235)(9008,-0.13)(9012,0.03)(9016,-0.31)(9019,-0.12)(9023,-0.165)(9027,-0.095)(9033,0.36)(9036,-0.14)(9040,-0.13)(9044,-0.17)(9048,-0.05)(9052,-0.22)(9056,0.07)(9060,-0.14)(9064,-0.13)(9068,-0.12)(9072,-0.03)(9076,0.245)(9080,0.07)(9083,-0.05)(9087,0.045)(9091,-0.34)(9095,0.21)(9099,-0.03)(9103,-0.08)(9107,0.10)(9111,-0.345)(9115,-0.095)(9119,-0.03)(9123,-0.05)(9127,-0.11)(9130,0.115)(9134,0.125)(9138,0.15)(9142,0.00)(9146,-0.30)(9150,-0.19)(9154,-0.03)(9158,-0.21)(9162,-0.40)(9166,-0.03)(9170,-0.14)(9174,0.36)(9177,-0.14)(9181,0.045)(9185,0.045)(9189,-0.05)(9193,-0.20)(9197,-0.07)(9202,0.27)(9206,0.09)(9210,-0.06)(9214,-0.21)(9218,0.02)(9222,0.02)(9226,0.00)(9230,-0.05)(9234,0.045)(9239,0.245)(9243,-0.175)(9247,0.075)(9251,-0.175)(9254,0.08)(9258,-0.175)(9262,-0.12)(9266,-0.14)(9270,-0.165)(9274,-0.11)(9278,-0.085)(9283,0.23)(9287,0.09)(9291,0.00)(9295,-0.42)(9299,-0.43)
};
\end{axis}
% title
\node[anchor=base, inner sep=0pt, font=\fontsize{18}{21}\selectfont] at (7.6875in,3.96in+7pt) {Spectrum of object 30548 in candels-cdfs-29};
% y label
\node[rotate=90, anchor=center, inner sep=0pt, font=\fontsize{16}{19}\selectfont] at (0.93in,2.2275in) {10\textsuperscript{−18} erg s\textsuperscript{−1} cm\textsuperscript{−2} Å\textsuperscript{−1}};
% x label
\node[anchor=north, inner sep=0pt, font=\fontsize{12}{14}\selectfont] at (7.6875in,0.495in-22pt) {Wavelength};
\end{tikzpicture}
\end{document}
